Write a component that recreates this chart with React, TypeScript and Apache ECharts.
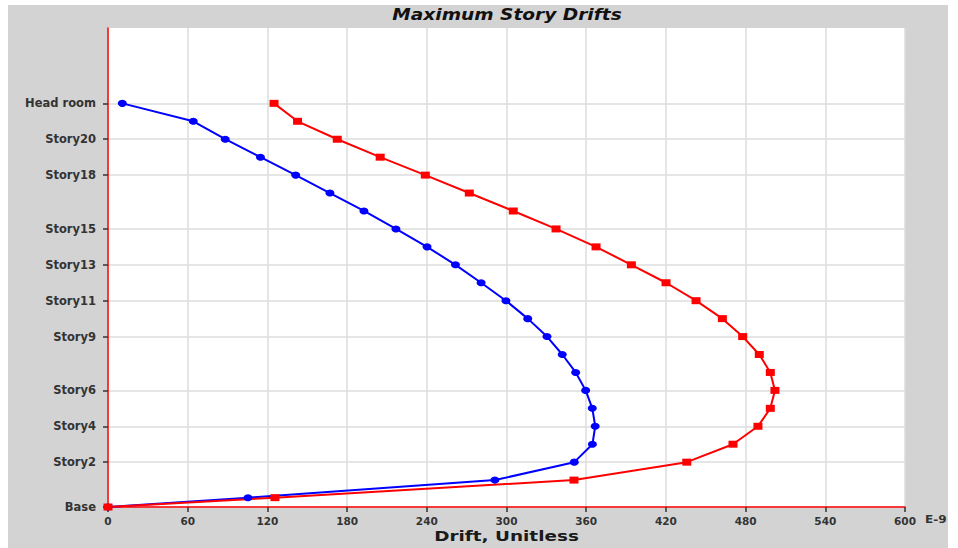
import React, { useEffect, useRef } from "react";
import * as echarts from "echarts";

// Level names from bottom to top and their elevations (in story units)
const levelNames = [
  "Base", "Base1", "Story1", "Story2", "Story3", "Story4", "Story5", "Story6",
  "Story7", "Story8", "Story9", "Story10", "Story11", "Story12", "Story13",
  "Story14", "Story15", "Story16", "Story17", "Story18", "Story19", "Story20",
  "Story21", "Head room",
];
const elevations = [
  0, 0.52, 1.5, 2.5, 3.5, 4.5, 5.5, 6.5, 7.5, 8.5, 9.5, 10.5, 11.5, 12.5,
  13.5, 14.5, 15.5, 16.5, 17.5, 18.5, 19.5, 20.5, 21.5, 22.5,
];
// Drift values (E-9)
const blueDrift = [
  0, 105.4, 291.3, 351.0, 364.7, 366.8, 364.6, 359.6, 352.1, 342.0, 330.5,
  316.0, 299.6, 280.9, 261.6, 240.2, 216.8, 192.7, 167.1, 141.3, 114.8, 88.3,
  64.2, 10.8,
];
const redDrift = [
  0, 125.7, 350.8, 435.7, 470.5, 489.3, 498.6, 502.1, 498.6, 490.3, 477.8,
  462.5, 442.7, 420.1, 394.0, 367.4, 337.3, 305.1, 272.0, 238.9, 204.9, 172.6,
  142.7, 125.0,
];
const labeledLevels = [
  "Base", "Story2", "Story4", "Story6", "Story9", "Story11", "Story13",
  "Story15", "Story18", "Story20", "Head room",
];
const xTicks = [0, 60, 120, 180, 240, 300, 360, 420, 480, 540, 600];
const titleText = "Maximum Story Drifts";
const xAxisTitle = "Drift, Unitless";
const xUnitText = "E-9";

export default function App() {
  const ref = useRef<HTMLDivElement>(null);
  useEffect(() => {
    if (!ref.current) return;
    document.documentElement.style.overflow = "hidden";
    document.body.style.overflow = "hidden";
    const chart = echarts.init(ref.current, null, { renderer: "svg" });
    const labeledValues = labeledLevels.map((n) => elevations[levelNames.indexOf(n)]);
    const nameOf = (v: number) => {
      const i = elevations.indexOf(v);
      return i >= 0 ? levelNames[i] : "";
    };
    const font = "DejaVu Sans";
    chart.setOption({
      animation: false,
      backgroundColor: "#d3d3d3",
      grid: {
        left: 100,
        right: 43,
        top: 23,
        bottom: 41,
        show: true,
        backgroundColor: "#ffffff",
        borderWidth: 0,
        outerBoundsMode: "none",
        containLabel: false,
      },
      xAxis: {
        type: "value",
        min: xTicks[0],
        max: xTicks[xTicks.length - 1],
        interval: 60,
        axisLine: { show: true, lineStyle: { color: "#ff0000", width: 1.5 } },
        axisTick: { show: true, length: 5, lineStyle: { color: "#333333", width: 1.5 } },
        axisLabel: {
          fontFamily: font,
          fontWeight: "bold",
          fontSize: 10.5,
          color: "#333333",
          margin: 8,
        },
        splitLine: { show: true, lineStyle: { color: "#dddddd", width: 1.5 } },
      },
      yAxis: {
        type: "value",
        min: 0,
        max: 26.7,
        axisLine: { show: true, lineStyle: { color: "#ff0000", width: 1.5 } },
        axisTick: {
          show: true,
          length: 5,
          customValues: labeledValues,
          lineStyle: { color: "#333333", width: 1.5 },
        },
        axisLabel: {
          customValues: labeledValues,
          formatter: (v: number) => nameOf(v),
          fontFamily: font,
          fontWeight: "bold",
          fontSize: 11.5,
          color: "#333333",
          margin: 12,
        },
        splitLine: { show: true, lineStyle: { color: "#dddddd", width: 1.5 } },
      },
      graphic: [
        {
          type: "text",
          x: 499,
          y: 10,
          scaleX: 1.24,
          style: {
            text: titleText,
            fontFamily: font,
            fontWeight: "bold",
            fontStyle: "italic",
            fontSize: 15,
            fill: "#111111",
            align: "center",
            verticalAlign: "middle",
          },
        },
        {
          type: "text",
          x: 498.5,
          y: 531.5,
          scaleX: 1.27,
          style: {
            text: xAxisTitle,
            fontFamily: font,
            fontWeight: "bold",
            fontSize: 14.5,
            fill: "#1a1a1a",
            align: "center",
            verticalAlign: "middle",
          },
        },
        {
          type: "text",
          x: 917,
          y: 515,
          scaleX: 1.15,
          style: {
            text: xUnitText,
            fontFamily: font,
            fontWeight: "bold",
            fontSize: 10.5,
            fill: "#333333",
            align: "left",
            verticalAlign: "middle",
          },
        },
      ],
      series: [
        {
          type: "line",
          name: "Blue",
          data: elevations.map((e, i) => [blueDrift[i], e]),
          symbol: "circle",
          symbolSize: [9, 7],
          itemStyle: { color: "#0000ff" },
          lineStyle: { color: "#0000ff", width: 2 },
        },
        {
          type: "line",
          name: "Red",
          data: elevations.map((e, i) => [redDrift[i], e]),
          symbol: "rect",
          symbolSize: [9, 7],
          itemStyle: { color: "#ff0000" },
          lineStyle: { color: "#ff0000", width: 2 },
        },
      ],
    });
    return () => chart.dispose();
  }, []);
  return (
    <div
      ref={ref}
      style={{ position: "absolute", left: 8, top: 5, width: 940, height: 543 }}
    />
  );
}
